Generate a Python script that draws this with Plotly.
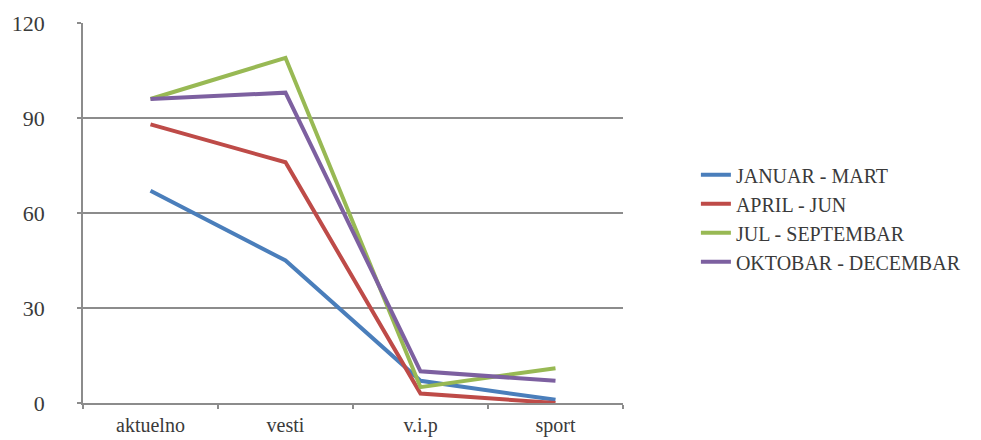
import plotly.graph_objects as go

categories = ["aktuelno", "vesti", "v.i.p", "sport"]
series_names = ["JANUAR - MART", "APRIL - JUN", "JUL - SEPTEMBAR", "OKTOBAR - DECEMBAR"]
jan_mar = [67, 45, 7, 1]
apr_jun = [88, 76, 3, 0]
jul_sep = [96, 109, 5, 11]
okt_dec = [96, 98, 10, 7]
colors = ["#4a7ebb", "#be4b48", "#98b954", "#7d60a0"]
y_ticks = [0, 30, 60, 90, 120]

fig = go.Figure()
for name, vals, col in zip(series_names, [jan_mar, apr_jun, jul_sep, okt_dec], colors):
    fig.add_trace(go.Scatter(x=categories, y=vals, mode="lines", name=name,
                             line=dict(color=col, width=4)))

font_family = "Times New Roman, Liberation Serif, DejaVu Serif, serif"
text_color = "#3a3a3a"
fig.update_layout(
    width=981, height=440,
    margin=dict(l=75, r=366, t=15, b=45, autoexpand=False),
    paper_bgcolor="white", plot_bgcolor="white",
    font=dict(family=font_family, size=20, color=text_color),
    showlegend=True,
    legend=dict(x=1.135, xanchor="left", y=0.652, yanchor="top",
                font=dict(family=font_family, size=20, color=text_color),
                bgcolor="rgba(0,0,0,0)", itemwidth=30, tracegroupgap=0),
)
fig.update_xaxes(type="category", showgrid=False, showline=True, linecolor="#8c8c8c", linewidth=1.5,
                 ticks="outside", ticklen=4, tickcolor="#8c8c8c", tickwidth=1.5,
                 tickson="boundaries", range=[-0.5, 3.5], automargin=False,
                 ticklabelstandoff=3,
                 tickfont=dict(family=font_family, size=20, color=text_color))
fig.update_yaxes(range=[0, 120], tickvals=y_ticks, showgrid=True, gridcolor="#8c8c8c", gridwidth=1.5,
                 showline=True, linecolor="#8c8c8c", linewidth=1.5, zeroline=False,
                 ticks="outside", ticklen=4, tickcolor="#8c8c8c", tickwidth=1.5,
                 ticklabelstandoff=28, automargin=False,
                 tickfont=dict(family=font_family, size=22, color=text_color))

fig.write_html("out.html")
